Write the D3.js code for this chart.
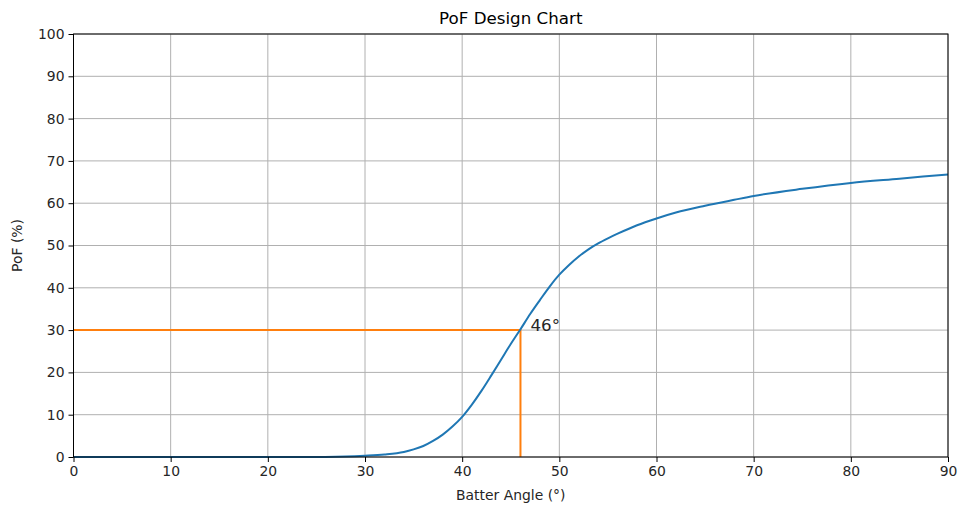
<!DOCTYPE html>
<html>
<head>
<meta charset="utf-8">
<script src="https://cdn.jsdelivr.net/npm/d3@7"></script>
<style>
  body { margin: 0; background: #fff; }
  svg { font-family: "DejaVu Sans", sans-serif; }
  .tick text { font-size: 13.9px; fill: #262626; }
</style>
</head>
<body>
<svg id="chart" width="959" height="509"></svg>
<script>
// batter angle (deg) vs probability of failure (%)
var angles = [0, 5, 10, 15, 20, 25, 27, 28, 30, 32, 34, 35, 36, 37, 38, 39, 40, 41, 42, 43, 44, 45, 46,
              47, 48, 49, 50, 51, 52, 53, 54, 55, 56, 58, 60, 62, 65, 68, 70, 75, 80, 85, 90];
var pof    = [0, 0, 0, 0, 0, 0, 0.05, 0.1, 0.3, 0.6, 1.2, 1.8, 2.6, 3.8, 5.3, 7.2, 9.5, 12.4, 15.7, 19.3, 23, 26.7, 30.2,
              33.8, 37.1, 40.3, 43.1, 45.4, 47.4, 49.1, 50.5, 51.7, 52.8, 54.8, 56.4, 57.8, 59.4, 60.8, 61.7, 63.4, 64.8, 65.8, 66.8];
var xTicks = [0, 10, 20, 30, 40, 50, 60, 70, 80, 90];
var yTicks = [0, 10, 20, 30, 40, 50, 60, 70, 80, 90, 100];
var designPoF = 30, designAngle = 46;

var margin = {top: 34, right: 11, bottom: 52, left: 73.5},
    width = 959 - margin.left - margin.right,
    height = 509 - margin.top - margin.bottom;

var svg = d3.select("#chart");
var g = svg.append("g")
    .attr("transform", "translate(" + margin.left + "," + margin.top + ")");

var x = d3.scaleLinear().domain([0, 90]).range([0, width]);
var y = d3.scaleLinear().domain([0, 100]).range([height, 0]);

// grid
g.selectAll(".vgrid").data(xTicks).enter().append("line")
    .attr("x1", d => x(d)).attr("x2", d => x(d))
    .attr("y1", 0).attr("y2", height)
    .attr("stroke", "#b0b0b0").attr("stroke-width", 1);
g.selectAll(".hgrid").data(yTicks).enter().append("line")
    .attr("y1", d => y(d)).attr("y2", d => y(d))
    .attr("x1", 0).attr("x2", width)
    .attr("stroke", "#b0b0b0").attr("stroke-width", 1);

// design lines
g.append("path")
    .attr("d", d3.line()([[x(0), y(designPoF)], [x(designAngle), y(designPoF)], [x(designAngle), y(0)]]))
    .attr("fill", "none").attr("stroke", "#ff7f0e").attr("stroke-width", 2);

// curve
var line = d3.line().x((d, i) => x(angles[i])).y(d => y(d)).curve(d3.curveMonotoneX);
g.append("path").datum(pof)
    .attr("d", line)
    .attr("fill", "none").attr("stroke", "#1f77b4").attr("stroke-width", 2);

g.append("text")
    .attr("x", x(designAngle) + 10).attr("y", y(designPoF) + 1)
    .attr("font-size", "16.7px").attr("fill", "#262626")
    .text(designAngle + "°");

// spines
g.append("rect").attr("width", width).attr("height", height)
    .attr("fill", "none").attr("stroke", "#000").attr("stroke-width", 1);

// axes
var xAxis = g.append("g").attr("transform", "translate(0," + height + ")")
    .call(d3.axisBottom(x).tickValues(xTicks).tickSize(5).tickPadding(4));
var yAxis = g.append("g")
    .call(d3.axisLeft(y).tickValues(yTicks).tickSize(5).tickPadding(4));
[xAxis, yAxis].forEach(function(a) {
    a.select(".domain").remove();
    a.selectAll(".tick line").attr("stroke", "#000");
    a.attr("font-family", null).attr("font-size", null);
});

svg.append("text")
    .attr("x", margin.left + width / 2).attr("y", 24)
    .attr("text-anchor", "middle").attr("font-size", "16.7px").attr("fill", "#000")
    .text("PoF Design Chart");

svg.append("text")
    .attr("x", margin.left + width / 2).attr("y", 500)
    .attr("text-anchor", "middle").attr("font-size", "13.9px").attr("fill", "#262626")
    .text("Batter Angle (°)");

svg.append("text")
    .attr("transform", "translate(22," + (margin.top + height / 2) + ") rotate(-90)")
    .attr("text-anchor", "middle").attr("font-size", "13.9px").attr("fill", "#262626")
    .text("PoF (%)");
</script>
</body>
</html>
